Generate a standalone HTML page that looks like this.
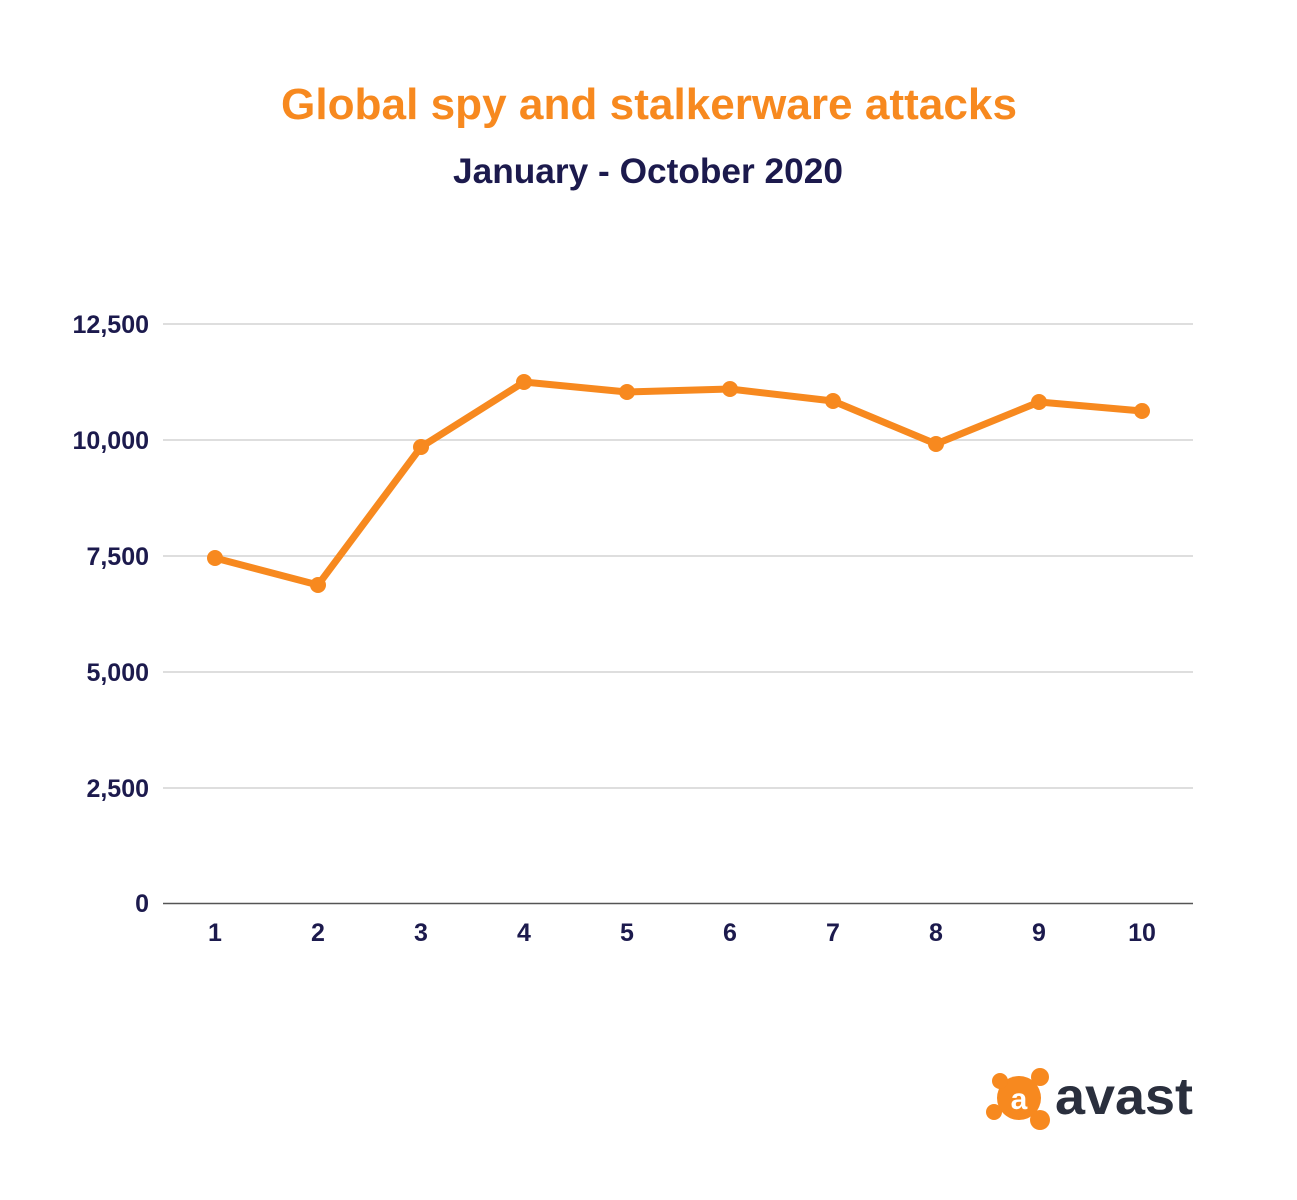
<!DOCTYPE html>
<html><head><meta charset="utf-8"><style>body{margin:0;background:#fff}</style></head><body>
<svg width="1297" height="1200" xmlns="http://www.w3.org/2000/svg" style="display:block">
<rect width="1297" height="1200" fill="#fff"/>
<text x="649" y="119" text-anchor="middle" font-family="Liberation Sans, sans-serif" font-weight="bold" font-size="44" fill="#f7891f" textLength="736" lengthAdjust="spacingAndGlyphs">Global spy and stalkerware attacks</text>
<text x="648" y="183" text-anchor="middle" font-family="Liberation Sans, sans-serif" font-weight="bold" font-size="35" fill="#1c1a4d" textLength="390" lengthAdjust="spacingAndGlyphs">January - October 2020</text>
<g stroke="#d4d4d4" stroke-width="1.5">
<line x1="163" x2="1193" y1="324" y2="324"/><line x1="163" x2="1193" y1="440" y2="440"/><line x1="163" x2="1193" y1="556" y2="556"/><line x1="163" x2="1193" y1="672" y2="672"/><line x1="163" x2="1193" y1="788" y2="788"/>
</g>
<line x1="163" x2="1193" y1="903.5" y2="903.5" stroke="#555" stroke-width="1.5"/>
<g font-family="Liberation Sans, sans-serif" font-weight="bold" font-size="25" fill="#1c1a4d" text-anchor="end">
<text x="149" y="333">12,500</text><text x="149" y="449">10,000</text><text x="149" y="565">7,500</text><text x="149" y="681">5,000</text><text x="149" y="797">2,500</text><text x="149" y="912">0</text>
</g>
<g font-family="Liberation Sans, sans-serif" font-weight="bold" font-size="25" fill="#1c1a4d" text-anchor="middle">
<text x="215" y="941">1</text><text x="318" y="941">2</text><text x="421" y="941">3</text><text x="524" y="941">4</text><text x="627" y="941">5</text><text x="730" y="941">6</text><text x="833" y="941">7</text><text x="936" y="941">8</text><text x="1039" y="941">9</text><text x="1142" y="941">10</text>
</g>
<polyline fill="none" stroke="#f7891f" stroke-width="7" stroke-linejoin="round" points="215,558 318,585 421,447 524,382 627,392 730,389 833,401 936,444 1039,402 1142,411"/>
<g fill="#f7891f">
<circle cx="215" cy="558" r="8"/><circle cx="318" cy="585" r="8"/><circle cx="421" cy="447" r="8"/><circle cx="524" cy="382" r="8"/><circle cx="627" cy="392" r="8"/><circle cx="730" cy="389" r="8"/><circle cx="833" cy="401" r="8"/><circle cx="936" cy="444" r="8"/><circle cx="1039" cy="402" r="8"/><circle cx="1142" cy="411" r="8"/>
</g>
<g fill="#f7891f">
<circle cx="1019" cy="1098" r="22"/>
<circle cx="1040" cy="1077" r="9"/><circle cx="1000" cy="1081" r="8"/><circle cx="994" cy="1112" r="8"/><circle cx="1040" cy="1120" r="10"/>
</g>
<text x="1019" y="1109" text-anchor="middle" font-family="Liberation Sans, sans-serif" font-weight="bold" font-size="30" fill="#fff">a</text>
<text x="1055" y="1114" font-family="Liberation Sans, sans-serif" font-weight="bold" font-size="52" fill="#2a2f3d" textLength="138" lengthAdjust="spacingAndGlyphs">avast</text>
</svg>
</body></html>
